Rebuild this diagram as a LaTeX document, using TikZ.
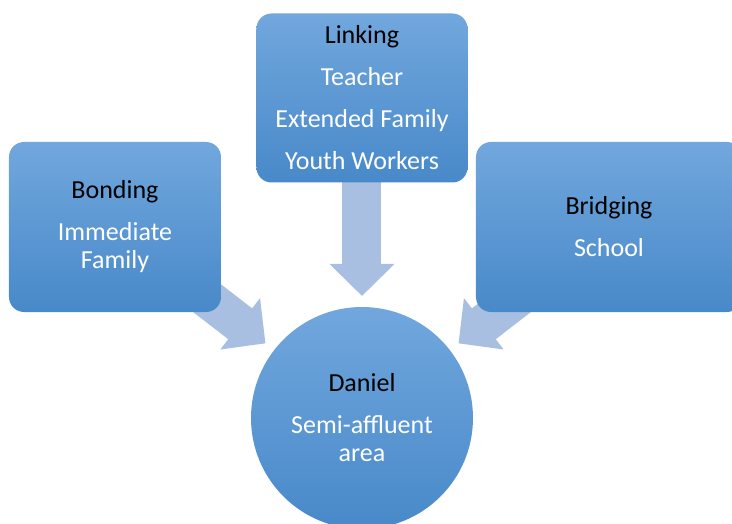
\documentclass[tikz,border=0pt]{standalone}
\usepackage{fontspec}
\setmainfont{Carlito}
\usepackage{tikz}
\usetikzlibrary{shapes.geometric, arrows.meta, positioning, backgrounds}
\definecolor{boxtop}{HTML}{71A7DD}
\definecolor{boxbottom}{HTML}{4889C9}
\definecolor{arrowblue}{HTML}{A8BFE1}
\tikzstyle{tier} = [rectangle, rounded corners=15pt, minimum width=212pt, minimum height=170pt, inner sep=0pt, outer sep=0pt, align=center, text=white, top color=boxtop, bottom color=boxbottom, font=\fontsize{26}{28}\selectfont]
\tikzstyle{hub} = [circle, minimum size=222pt, inner sep=0pt, outer sep=0pt, align=center, text=white, top color=boxtop, bottom color=boxbottom, font=\fontsize{26}{28}\selectfont]
\tikzstyle{flow} = [line width=39pt, draw=arrowblue, -{Triangle[width=63pt, length=32pt]}, shorten >=11pt]

\begin{document}
\begin{tikzpicture}[node distance=247pt]

\useasboundingbox (-362pt,-105pt) rectangle (370pt,418pt);

% Centre
\node (daniel) [hub] {\textcolor{black}{Daniel}\\[14pt]Semi-affluent\\area};

% Capital types
\node (linking) [tier, above of=daniel, yshift=73pt, minimum width=211pt, minimum height=169pt] {\textcolor{black}{Linking}\\[14pt]Teacher\\[14pt]Extended Family\\[14pt]Youth Workers};
\node (bonding) [tier, left of=daniel, yshift=191pt] {\textcolor{black}{Bonding}\\[14pt]Immediate\\Family};
\node (bridging) [tier, right of=daniel, yshift=191pt, minimum width=266pt] {\textcolor{black}{Bridging}\\[14pt]School};

% Arrows
\begin{scope}[on background layer]
\draw [flow] (linking.center) -- (daniel);
\draw [flow] (bonding.center) -- (daniel);
\draw [flow] (bridging.center) -- (daniel);
\end{scope}

\end{tikzpicture}
\end{document}
